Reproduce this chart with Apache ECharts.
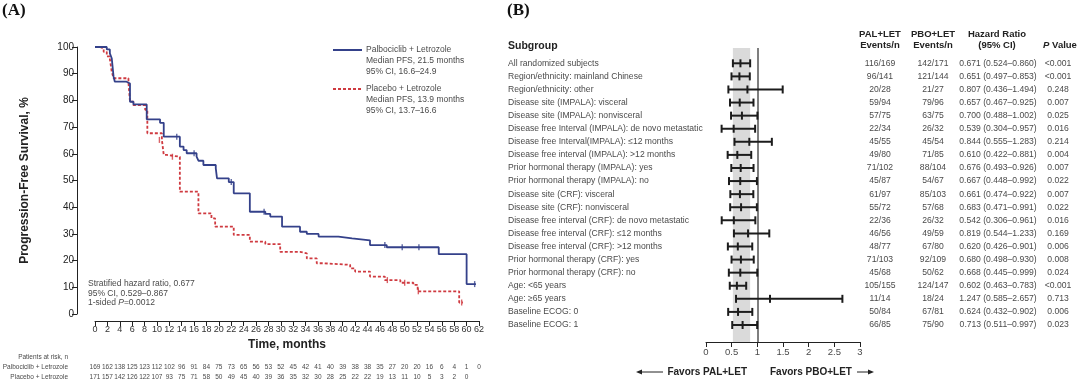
<!DOCTYPE html>
<html><head><meta charset="utf-8">
<script src="https://cdn.jsdelivr.net/npm/echarts@6/dist/echarts.min.js"></script>
<style>html,body{margin:0;padding:0;background:#fff}#c{width:1080px;height:381px}</style>
</head><body><div id="c"></div>
<script>
// ---------- Panel A: Kaplan-Meier data (time in months, survival %) ----------
const palTimes = [0, 1.9, 2.4, 2.7, 3.0, 3.2, 5.1, 5.65, 6.2, 8.35, 10.5, 11.1, 13.7, 14.3, 14.8, 16.4, 16.7, 17.5, 19.5, 19.7, 21.6, 22.4, 25.0, 27.5, 28.3, 30.2, 33.1, 34.2, 36.1, 39.3, 41.5, 44.4, 47.1, 55.5, 60.0, 61.5];
const palSurv  = [100, 99.1, 97.6, 95.8, 88.9, 87.0, 86.3, 79.5, 78.5, 72.9, 71.6, 66.4, 62.7, 61.4, 60.2, 58.9, 57.4, 55.8, 54.5, 50.8, 49.4, 45.2, 38.3, 37.5, 36.5, 32.7, 30.8, 30.0, 29.0, 28.3, 27.6, 25.8, 25.0, 22.4, 11.2, 11.2];
const pboTimes = [0, 0.8, 1.4, 1.9, 2.4, 2.7, 3.0, 5.4, 5.65, 6.2, 8.1, 8.45, 10.8, 11.1, 11.6, 13.7, 16.7, 18.8, 19.4, 22.4, 25.0, 27.5, 29.9, 33.1, 34.2, 35.8, 37.0, 41.2, 42.0, 44.4, 46.8, 49.3, 51.4, 52.1, 58.8, 59.4];
const pboSurv  = [100, 99.4, 98.2, 96.5, 95.5, 90.8, 88.3, 86.8, 79.5, 78.2, 76.5, 67.7, 65.2, 59.6, 58.9, 45.8, 37.7, 35.8, 32.7, 29.6, 27.1, 26.2, 23.3, 22.7, 20.8, 19.0, 18.4, 17.1, 15.9, 14.0, 12.7, 11.7, 10.9, 8.5, 4.3, 4.3];
const palCensorT = [13.2, 16.0, 22.0, 27.3, 46.8, 49.6, 52.3, 61.3];
const palCensorS = [66.4, 60.2, 49.4, 38.3, 25.8, 25.0, 25.0, 11.2];
const pboCensorT = [10.4, 12.5, 47.2, 50.0, 52.2, 59.2];
const pboCensorS = [65.2, 58.9, 12.7, 11.7, 8.5, 4.3];
const palAtRisk = [169,162,138,125,123,112,102,96,91,84,75,73,65,56,53,52,45,42,41,40,39,38,38,35,27,20,20,16,6,4,1,0];
const pboAtRisk = [171,157,142,126,122,107,93,75,71,58,50,49,45,40,39,36,35,32,30,28,25,22,22,19,13,11,10,5,3,2,0];

// ---------- Panel B: forest plot data ----------
const subgroups = [
  "All randomized subjects",
  "Region/ethnicity: mainland Chinese",
  "Region/ethnicity: other",
  "Disease site (IMPALA): visceral",
  "Disease site (IMPALA): nonvisceral",
  "Disease free Interval (IMPALA): de novo metastatic",
  "Disease free Interval(IMPALA): \u226412 months",
  "Disease free interval (IMPALA): >12 months",
  "Prior hormonal therapy (IMPALA): yes",
  "Prior hormonal therapy (IMPALA): no",
  "Disease site (CRF): visceral",
  "Disease site (CRF): nonvisceral",
  "Disease free interval (CRF): de novo metastatic",
  "Disease free interval (CRF): \u226412 months",
  "Disease free interval (CRF): >12 months",
  "Prior hormonal therapy (CRF): yes",
  "Prior hormonal therapy (CRF): no",
  "Age: <65 years",
  "Age: \u226565 years",
  "Baseline ECOG: 0",
  "Baseline ECOG: 1"
];
const palEvents = ["116/169","96/141","20/28","59/94","57/75","22/34","45/55","49/80","71/102","45/87","61/97","55/72","22/36","46/56","48/77","71/103","45/68","105/155","11/14","50/84","66/85"];
const pboEvents = ["142/171","121/144","21/27","79/96","63/75","26/32","45/54","71/85","88/104","54/67","85/103","57/68","26/32","49/59","67/80","92/109","50/62","124/147","18/24","67/81","75/90"];
const hrValues = [0.671,0.651,0.807,0.657,0.700,0.539,0.844,0.610,0.676,0.667,0.661,0.683,0.542,0.819,0.620,0.680,0.668,0.602,1.247,0.624,0.713];
const ciLower  = [0.524,0.497,0.436,0.467,0.488,0.304,0.555,0.422,0.493,0.448,0.474,0.471,0.306,0.544,0.426,0.498,0.445,0.463,0.585,0.432,0.511];
const ciUpper  = [0.860,0.853,1.494,0.925,1.002,0.957,1.283,0.881,0.926,0.992,0.922,0.991,0.961,1.233,0.901,0.930,0.999,0.783,2.657,0.902,0.997];
const pValues  = ["<0.001","<0.001","0.248","0.007","0.025","0.016","0.214","0.004","0.007","0.022","0.007","0.022","0.016","0.169","0.006","0.008","0.024","<0.001","0.713","0.006","0.023"];

// ---------- styling ----------
const FF = "'Liberation Sans', Arial, Helvetica, sans-serif";
const SERIF = "'Liberation Serif', 'Times New Roman', serif";
const BLUE = '#34418a', RED = '#cf3a40';
const GREY = '#4a4a4a';

const chart = echarts.init(document.getElementById('c'), null, {renderer: 'canvas'});

function pair(a, b) { return a.map((v, i) => [v, b[i]]); }
function fmt(n) { return n.toFixed(3); }

function txt(x, y, text, opt) {
  return Object.assign({type: 'text', x: x, y: y, silent: true,
    style: Object.assign({text: text, fontFamily: FF, fontSize: 8.5, fill: GREY, align: 'left', verticalAlign: 'middle'}, opt || {})});
}
const HB = {fontWeight: 'bold', fontSize: 9.5, fill: '#222'};

const graphics = [
  {type: 'text', x: 2, y: 2, style: {text: '(A)', font: 'bold 17px ' + SERIF, fill: '#111'}},
  {type: 'text', x: 507, y: 2, style: {text: '(B)', font: 'bold 17px ' + SERIF, fill: '#111'}},
  // legend
  {type: 'line', shape: {x1: 333, y1: 50, x2: 362, y2: 50}, style: {stroke: BLUE, lineWidth: 2}},
  txt(366, 50, 'Palbociclib + Letrozole'),
  txt(366, 61, 'Median PFS, 21.5 months'),
  txt(366, 72, '95% CI, 16.6\u201324.9'),
  {type: 'line', shape: {x1: 333, y1: 89, x2: 362, y2: 89}, style: {stroke: RED, lineWidth: 2, lineDash: [3, 2]}},
  txt(366, 89, 'Placebo + Letrozole'),
  txt(366, 100, 'Median PFS, 13.9 months'),
  txt(366, 111, '95% CI, 13.7\u201316.6'),
  // stats
  txt(88, 284, 'Stratified hazard ratio, 0.677'),
  txt(88, 294, '95% CI, 0.529\u20130.867'),
  {type: 'text', x: 88, y: 303, style: {text: '{n|1-sided }{i|P}{n|=0.0012}', verticalAlign: 'middle',
    rich: {n: {fontFamily: FF, fontSize: 8.5, fill: GREY}, i: {fontFamily: FF, fontSize: 8.5, fontStyle: 'italic', fill: GREY}}}},
  // at-risk labels
  txt(68, 357, 'Patients at risk, n', {align: 'right', fontSize: 6.5}),
  txt(68, 367, 'Palbociclib + Letrozole', {align: 'right', fontSize: 6.5}),
  txt(68, 377, 'Placebo + Letrozole', {align: 'right', fontSize: 6.5}),
  // forest headers
  txt(508, 46, 'Subgroup', {fontWeight: 'bold', fontSize: 10.5, fill: '#222'}),
  txt(880, 34, 'PAL+LET', Object.assign({align: 'center'}, HB)),
  txt(880, 45, 'Events/n', Object.assign({align: 'center'}, HB)),
  txt(933, 34, 'PBO+LET', Object.assign({align: 'center'}, HB)),
  txt(933, 45, 'Events/n', Object.assign({align: 'center'}, HB)),
  txt(997, 34, 'Hazard Ratio', Object.assign({align: 'center'}, HB)),
  txt(997, 45, '(95% CI)', Object.assign({align: 'center'}, HB)),
  {type: 'text', x: 1060, y: 45, style: {text: '{i|P}{b| Value}', align: 'center', verticalAlign: 'middle',
    rich: {i: {fontFamily: FF, fontSize: 9.5, fontWeight: 'bold', fontStyle: 'italic', fill: '#222'},
           b: {fontFamily: FF, fontSize: 9.5, fontWeight: 'bold', fill: '#222'}}}},
  // favors
  txt(747, 372, 'Favors PAL+LET', {align: 'right', fontWeight: 'bold', fontSize: 10, fill: '#222'}),
  txt(770, 372, 'Favors PBO+LET', {fontWeight: 'bold', fontSize: 10, fill: '#222'}),
  {type: 'line', shape: {x1: 640, y1: 372, x2: 663, y2: 372}, style: {stroke: '#222', lineWidth: 1}},
  {type: 'polygon', shape: {points: [[636, 372], [642, 369.5], [642, 374.5]]}, style: {fill: '#222'}},
  {type: 'line', shape: {x1: 857, y1: 372, x2: 870, y2: 372}, style: {stroke: '#222', lineWidth: 1}},
  {type: 'polygon', shape: {points: [[874, 372], [868, 369.5], [868, 374.5]]}, style: {fill: '#222'}}
];

const riskAxis = (offset, arr) => ({
  gridIndex: 0, type: 'value', min: 0, max: 62, interval: 2, position: 'bottom', offset: offset,
  axisLine: {show: false, onZero: false}, axisTick: {show: false}, splitLine: {show: false},
  axisLabel: {fontFamily: FF, fontSize: 6.5, color: GREY, margin: 3,
    formatter: v => { const i = Math.round(v / 2); return i < arr.length ? String(arr[i]) : ''; }}
});

const option = {
  animation: false,
  backgroundColor: '#fff',
  grid: [
    {left: 95, top: 47, width: 384, height: 267},
    {left: 706, top: 48, width: 154, height: 294}
  ],
  xAxis: [
    {gridIndex: 0, type: 'value', min: 0, max: 62, interval: 2, offset: 7, position: 'bottom',
     name: 'Time, months', nameLocation: 'middle', nameGap: 18,
     nameTextStyle: {fontFamily: FF, fontSize: 12, fontWeight: 'bold', color: '#222'},
     axisLine: {onZero: false, lineStyle: {color: '#222', width: 1}},
     axisTick: {length: 5, lineStyle: {color: '#222'}},
     axisLabel: {fontFamily: FF, fontSize: 9, color: '#333', margin: 4},
     splitLine: {show: false}},
    riskAxis(47, palAtRisk),
    riskAxis(57, pboAtRisk),
    {gridIndex: 1, type: 'value', min: 0, max: 3, interval: 0.5, position: 'bottom',
     axisLine: {onZero: false, lineStyle: {color: '#222', width: 1}},
     axisTick: {length: 5, lineStyle: {color: '#222'}},
     axisLabel: {fontFamily: FF, fontSize: 9.5, color: GREY, margin: 5},
     splitLine: {show: false}}
  ],
  yAxis: [
    {gridIndex: 0, type: 'value', min: 0, max: 100, interval: 10, offset: 18,
     name: 'Progression-Free Survival, %', nameLocation: 'middle', nameGap: 46,
     nameTextStyle: {fontFamily: FF, fontSize: 12, fontWeight: 'bold', color: '#222'},
     axisLine: {show: true, onZero: false, lineStyle: {color: '#222', width: 1}},
     axisTick: {show: true, length: 5, lineStyle: {color: '#222'}},
     axisLabel: {fontFamily: FF, fontSize: 10, color: '#222', margin: 3},
     splitLine: {show: false}},
    {gridIndex: 1, type: 'value', inverse: true, min: -0.17, max: 22.3, show: false}
  ],
  graphic: graphics,
  series: [
    {type: 'line', xAxisIndex: 0, yAxisIndex: 0, step: 'end', showSymbol: false, z: 3,
     data: pair(palTimes, palSurv), lineStyle: {color: BLUE, width: 1.8}},
    {type: 'line', xAxisIndex: 0, yAxisIndex: 0, step: 'end', showSymbol: false, z: 2,
     data: pair(pboTimes, pboSurv), lineStyle: {color: RED, width: 1.8, type: [3, 2]}},
    {type: 'scatter', xAxisIndex: 0, yAxisIndex: 0, symbol: 'rect', symbolSize: [1.4, 6], z: 4,
     data: pair(palCensorT, palCensorS), itemStyle: {color: BLUE}},
    {type: 'scatter', xAxisIndex: 0, yAxisIndex: 0, symbol: 'rect', symbolSize: [1.4, 6], z: 4,
     data: pair(pboCensorT, pboCensorS), itemStyle: {color: RED}},
    {type: 'custom', xAxisIndex: 3, yAxisIndex: 1, clip: false, z: 5,
     data: subgroups.map((s, i) => [i + 1, hrValues[i], ciLower[i], ciUpper[i]]),
     encode: {x: [1, 2, 3], y: 0},
     markArea: {silent: true, itemStyle: {color: '#dadada'},
       data: [[{xAxis: ciLower[0]}, {xAxis: ciUpper[0]}]]},
     markLine: {silent: true, symbol: 'none', label: {show: false},
       lineStyle: {color: '#555', width: 1.5, type: 'solid'}, data: [{xAxis: 1}]},
     renderItem: function (params, api) {
       const i = params.dataIndex;
       const row = api.value(0);
       const pHr = api.coord([api.value(1), row]);
       const pLo = api.coord([api.value(2), row]);
       const pHi = api.coord([api.value(3), row]);
       const y = pHr[1], h = 4;
       const st = {stroke: '#1c1c1c', lineWidth: 2};
       const t = (x, s, al) => ({type: 'text', style: {text: s, x: x, y: y, fontFamily: FF, fontSize: 8.6,
         fill: GREY, align: al, verticalAlign: 'middle'}});
       return {type: 'group', children: [
         {type: 'line', shape: {x1: pLo[0], y1: y, x2: pHi[0], y2: y}, style: st},
         {type: 'line', shape: {x1: pLo[0], y1: y - h, x2: pLo[0], y2: y + h}, style: st},
         {type: 'line', shape: {x1: pHr[0], y1: y - h, x2: pHr[0], y2: y + h}, style: st},
         {type: 'line', shape: {x1: pHi[0], y1: y - h, x2: pHi[0], y2: y + h}, style: st},
         t(508, subgroups[i], 'left'),
         t(880, palEvents[i], 'center'),
         t(933, pboEvents[i], 'center'),
         t(998, fmt(hrValues[i]) + ' (' + fmt(ciLower[i]) + '\u2013' + fmt(ciUpper[i]) + ')', 'center'),
         t(1058, pValues[i], 'center')
       ]};
     }}
  ]
};
chart.setOption(option);
</script>
</body></html>
